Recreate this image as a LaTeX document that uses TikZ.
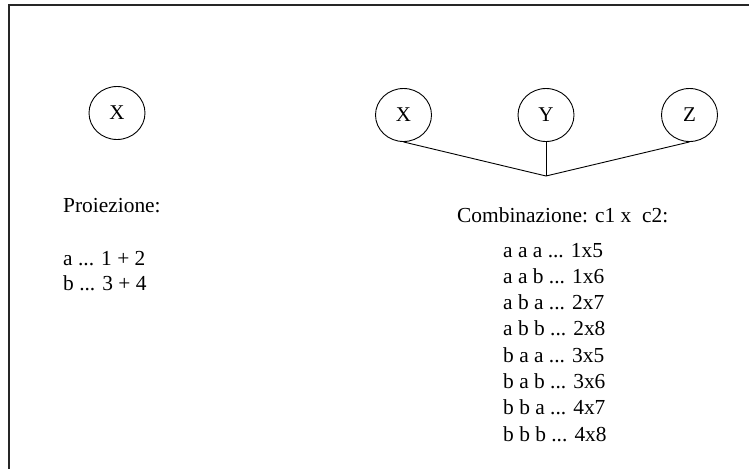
\documentclass[tikz,border=0pt]{standalone}
\usepackage{fontspec}
\setmainfont{Liberation Serif}
\usetikzlibrary{shapes.geometric}
\begin{document}
\begin{tikzpicture}[x=1pt,y=-1pt,
  var/.style={draw,line width=0.9pt,ellipse,minimum width=56pt,minimum height=53pt,inner sep=0pt,font=\fontsize{21}{25}\selectfont},
  txt/.style={anchor=base west,inner sep=0pt,font=\fontsize{21.4}{26}\selectfont},
  link/.style={line width=0.9pt},
  frame/.style={line width=1.5pt,draw=black!85}]
\useasboundingbox (0,0) rectangle (749,469);
\coordinate (tl) at (9,5);
\coordinate (tr) at (749,5);
\coordinate (bl) at (9,469);
\draw[frame] (tr) -- (tl) -- (bl);

\node[var] (x1) at (117,113) {X};
\node[var] (x2) at (403.5,115) {X};
\node[var] (y2) at (546,115) {Y};
\node[var] (z2) at (689.5,115) {Z};
\coordinate (apex) at (546,176);
\draw[link] (x2.south) -- (apex);
\draw[link] (y2.south) -- (apex);
\draw[link] (z2.south) -- (apex);

\node[txt] (proj) at (63,212) {Proiezione:};
\node[txt] (pa) at (63,265) {a ... 1 + 2};
\node[txt] (pb) at (63,290) {b ... 3 + 4};

\node[txt] (comb) at (457,222) {Combinazione: c1 x \ c2:};
\node[txt] (r1) at (503,257) {a a a ... 1x5};
\node[txt] (r2) at (503,283.3) {a a b ... 1x6};
\node[txt] (r3) at (503,309.6) {a b a ... 2x7};
\node[txt] (r4) at (503,335.9) {a b b ... 2x8};
\node[txt] (r5) at (503,362.1) {b a a ... 3x5};
\node[txt] (r6) at (503,388.4) {b a b ... 3x6};
\node[txt] (r7) at (503,414.7) {b b a ... 4x7};
\node[txt] (r8) at (503,441) {b b b ... 4x8};
\end{tikzpicture}
\end{document}
